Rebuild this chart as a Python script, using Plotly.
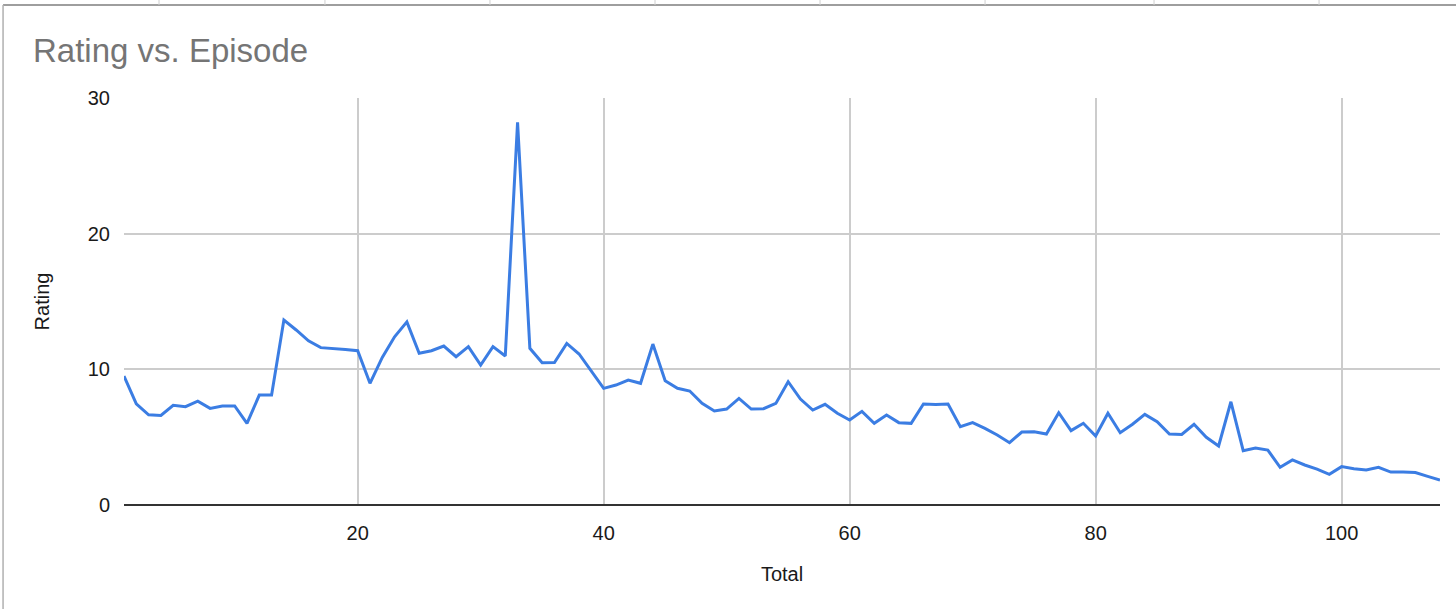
import plotly.graph_objects as go

# episode number (1..108) and its rating
episodes = list(range(1, 109))
ratings = [
    9.5, 7.45, 6.65, 6.6, 7.35, 7.25, 7.65, 7.12, 7.3, 7.3,
    6.02, 8.1, 8.1, 13.63, 12.9, 12.1, 11.6, 11.55, 11.47, 11.37,
    8.97, 10.88, 12.4, 13.5, 11.18, 11.37, 11.72, 10.93, 11.67, 10.32,
    11.67, 10.98, 28.2, 11.55, 10.49, 10.5, 11.91, 11.13, 9.82, 8.6,
    8.84, 9.21, 8.97, 11.86, 9.16, 8.6, 8.4, 7.49, 6.93, 7.07,
    7.86, 7.07, 7.1, 7.49, 9.09, 7.81, 7.0, 7.42, 6.76, 6.26,
    6.9, 6.02, 6.63, 6.07, 6.02, 7.44, 7.4, 7.44, 5.77, 6.07,
    5.65, 5.16, 4.59, 5.38, 5.4, 5.23, 6.8, 5.48, 6.02, 5.08,
    6.76, 5.33, 5.95, 6.68, 6.14, 5.23, 5.2, 5.95, 4.99, 4.35,
    7.61, 4.0, 4.2, 4.05, 2.78, 3.32, 2.95, 2.65, 2.26, 2.83,
    2.68, 2.58, 2.78, 2.43, 2.43, 2.39, 2.11, 1.84,
]
x_ticks = [20, 40, 60, 80, 100]
y_ticks = [0, 10, 20, 30]

FONT = "Liberation Sans, Arial, sans-serif"
GRID = "#cccccc"
TEXT = "#1a1a1a"

fig = go.Figure(go.Scatter(
    x=episodes, y=ratings, mode="lines",
    line=dict(color="#3b7de3", width=3),
    hovertemplate="Episode %{x}<br>Rating %{y}<extra></extra>",
))

fig.update_layout(
    width=1456, height=609,
    margin=dict(l=124, r=16, t=98, b=104),
    paper_bgcolor="white", plot_bgcolor="white",
    font=dict(family=FONT, color=TEXT, size=20),
    showlegend=False,
    title=dict(
        text="Rating vs. Episode", font=dict(size=33, color="#757575", family=FONT),
        x=33 / 1456, xref="container", xanchor="left",
        y=1 - 50 / 609, yref="container", yanchor="middle",
    ),
)

fig.update_xaxes(
    range=[1, 108], tickvals=x_ticks,
    showgrid=True, gridcolor=GRID, gridwidth=1.5,
    zeroline=False, showline=False,
    ticks="outside", ticklen=10, tickcolor="rgba(0,0,0,0)",
    tickfont=dict(size=20, color=TEXT),
    title=dict(text="Total", font=dict(size=20, color=TEXT), standoff=23),
)
fig.update_yaxes(
    range=[0, 30], tickvals=y_ticks,
    showgrid=True, gridcolor=GRID, gridwidth=1.5,
    zeroline=True, zerolinecolor="#333333", zerolinewidth=1.5,
    ticks="outside", ticklen=9, tickcolor="rgba(0,0,0,0)",
    tickfont=dict(size=20, color=TEXT),
    title=dict(text="Rating", font=dict(size=20, color=TEXT), standoff=32),
)

# spreadsheet frame around the embedded chart
shapes = [
    dict(type="line", xref="paper", yref="paper", x0=-0.0919, x1=1.02, y0=1.2285, y1=1.2285,
         line=dict(color="#9e9e9e", width=2)),
    dict(type="line", xref="paper", yref="paper", x0=-0.0919, x1=-0.0919, y0=-0.3, y1=1.2285,
         line=dict(color="#b0b0b0", width=1.5)),
]
for cx in [0.0266, 0.1527, 0.2781, 0.4035, 0.5289, 0.6543, 0.7827, 0.9081]:
    shapes.append(dict(type="line", xref="paper", yref="paper", x0=cx, x1=cx, y0=1.2285, y1=1.26,
                       line=dict(color="#d0d0d0", width=1)))
fig.update_layout(shapes=shapes)

# drop the browser's default body margin so the figure sits at the page corner
fig.write_html(
    "out.html",
    config={"displayModeBar": False},
    post_script="document.body.style.margin = '0';",
)
